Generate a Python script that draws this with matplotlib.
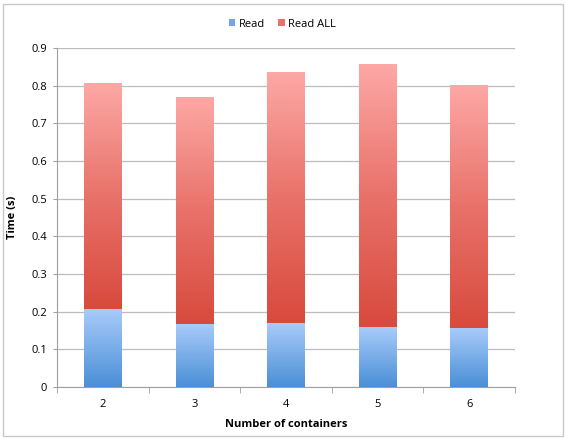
import numpy as np
import matplotlib
matplotlib.use('Agg')
import matplotlib.pyplot as plt
from matplotlib.colors import LinearSegmentedColormap
from matplotlib.patches import Rectangle, Patch

# data
containers = ['2', '3', '4', '5', '6']
read = [0.206, 0.167, 0.169, 0.158, 0.155]
read_all = [0.600, 0.601, 0.666, 0.697, 0.644]   # stacked on top of Read
yticks = [0, 0.1, 0.2, 0.3, 0.4, 0.5, 0.6, 0.7, 0.8, 0.9]

plt.rcParams['font.family'] = ['Open Sans', 'DejaVu Sans']

blue_cm = LinearSegmentedColormap.from_list('b', ['#4a8fd6', '#a8cbfa'])
red_cm = LinearSegmentedColormap.from_list('r', ['#d84a3d', '#e8726a', '#fda8a5'])

fig = plt.figure(figsize=(5.65, 4.38), dpi=100)
fig.patches.append(Rectangle((0.006, 0.005), 0.99, 0.985, transform=fig.transFigure,
                             fill=False, edgecolor='#c8c8c8', linewidth=1.0))
ax = fig.add_axes([0.1009, 0.117, 0.8106, 0.773])

x = np.arange(len(containers))
w = 0.41
grad = np.linspace(0, 1, 256).reshape(-1, 1)

def gradbar(xc, bottom, height, cmap):
    # vertical gradient bar
    ax.imshow(grad, extent=[xc - w / 2, xc + w / 2, bottom, bottom + height],
              origin='lower', aspect='auto', cmap=cmap, zorder=3,
              interpolation='bilinear')

for i in range(len(containers)):
    gradbar(x[i], 0, read[i], blue_cm)
    gradbar(x[i], read[i], read_all[i], red_cm)

ax.set_xlim(-0.5, len(containers) - 0.5)
ax.set_ylim(0, 0.9)
ax.set_yticks(yticks)
ax.set_yticklabels(['0'] + ['%.1f' % v for v in yticks[1:]], fontsize=8)
ax.set_xticks(x)
ax.set_xticklabels(containers, fontsize=8)
ax.set_xticks(np.arange(len(containers) + 1) - 0.5, minor=True)
ax.tick_params(axis='x', which='major', length=0, pad=9)
ax.tick_params(axis='x', which='minor', length=4, color='#a0a0a0')
ax.tick_params(axis='y', length=3, color='#a0a0a0', pad=4)
ax.grid(axis='y', color='#bcbcbc', linewidth=0.9, zorder=0)
ax.set_axisbelow(True)
for s in ['top', 'right']:
    ax.spines[s].set_visible(False)
ax.spines['left'].set_color('#a0a0a0')
ax.spines['bottom'].set_color('#a0a0a0')

ax.set_ylabel('Time (s)', fontsize=8, fontweight='bold', labelpad=10)
ax.set_xlabel('Number of containers', fontsize=8, fontweight='bold', labelpad=6)

handles = [Patch(facecolor='#6fa5e6', edgecolor='none', label='Read'),
           Patch(facecolor='#e8726a', edgecolor='none', label='Read ALL')]
fig.legend(handles=handles, loc='center', bbox_to_anchor=(0.5, 0.945), ncol=2,
           frameon=False, fontsize=8, handlelength=0.6, handleheight=0.6,
           handletextpad=0.3, columnspacing=1.2)

fig.savefig('out.png', dpi=100)
